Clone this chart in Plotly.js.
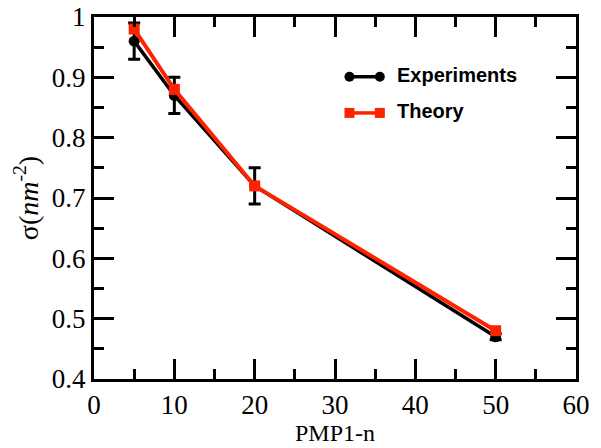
<!DOCTYPE html>
<html><head><meta charset="utf-8">
<script src="https://cdn.plot.ly/plotly-3.0.1.min.js"></script>
<style>html,body{margin:0;padding:0;background:#fff}#chart{width:601px;height:448px}</style>
</head><body><div id="chart"></div>
<script>
const xVals = [5, 10, 20, 50];
const expVals = [0.96, 0.87, 0.72, 0.47];
const expErr = [0.03, 0.03, 0.03, 0.005];
const theoryVals = [0.98, 0.88, 0.72, 0.48];
const seriesNames = ['Experiments', 'Theory'];
const xTickVals = [0, 10, 20, 30, 40, 50, 60];
const xTickText = ['0', '10', '20', '30', '40', '50', '60'];
const yTickVals = [0.4, 0.5, 0.6, 0.7, 0.8, 0.9, 1.0];
const yTickText = ['0.4', '0.5', '0.6', '0.7', '0.8', '0.9', '1'];

const red = '#ff2200';
const serif = '"Liberation Serif", "Times New Roman", serif';
const traces = [
  {x: xVals, y: expVals, name: seriesNames[0], type: 'scatter', mode: 'lines+markers', showlegend: false,
   line: {color: '#000', width: 3.5}, marker: {symbol: 'circle', size: 11, color: '#000'},
   error_y: {type: 'data', array: expErr, visible: true, color: '#000', thickness: 3, width: 6}},
  {x: xVals, y: theoryVals, name: seriesNames[1], type: 'scatter', mode: 'lines+markers', showlegend: false,
   line: {color: red, width: 4}, marker: {symbol: 'square', size: 11, color: red}}
];
const axisCommon = {showgrid: false, zeroline: false, showline: true, linecolor: '#000', linewidth: 3,
  mirror: 'ticks', ticks: 'inside', ticklen: 20, tickwidth: 3, tickcolor: '#000',
  tickfont: {family: serif, size: 27, color: '#000'}};

// custom legend (line with markers at both ends)
const legY = [0.835, 0.735];
const legColors = ['#000', red];
const legTypes = ['circle', 'rect'];
const shapes = [];
const annotations = [];
for (let i = 0; i < 2; i++) {
  shapes.push({type: 'line', xref: 'paper', yref: 'paper', x0: 0.53, x1: 0.593, y0: legY[i], y1: legY[i],
    line: {color: legColors[i], width: 3.5}});
  [0.53, 0.593].forEach(px => {
    shapes.push({type: legTypes[i], xref: 'paper', yref: 'paper', xsizemode: 'pixel', ysizemode: 'pixel',
      xanchor: px, yanchor: legY[i], x0: -5, x1: 5, y0: -5, y1: 5,
      fillcolor: legColors[i], line: {color: legColors[i], width: 0}});
  });
  annotations.push({xref: 'paper', yref: 'paper', x: 0.625, y: legY[i] + 0.005, xanchor: 'left', yanchor: 'middle',
    text: '<b>' + seriesNames[i] + '</b>', showarrow: false,
    font: {family: '"Liberation Sans", Arial, sans-serif', size: 20, color: '#000'}});
}

const layout = {
  width: 601, height: 448,
  margin: {l: 94, r: 25, t: 17, b: 69},
  paper_bgcolor: '#fff', plot_bgcolor: '#fff',
  showlegend: false,
  shapes: shapes, annotations: annotations,
  xaxis: Object.assign({}, axisCommon, {range: [0, 60], tickmode: 'array', tickvals: xTickVals, ticktext: xTickText,
    minor: {dtick: 5, tick0: 0, ticklen: 10, tickwidth: 3, tickcolor: '#000', ticks: 'inside'},
    title: {text: 'PMP1-n', font: {family: serif, size: 24, color: '#000'}, standoff: 4}}),
  yaxis: Object.assign({}, axisCommon, {range: [0.4, 1.0], tickmode: 'array', tickvals: yTickVals, ticktext: yTickText,
    minor: {dtick: 0.05, tick0: 0.4, ticklen: 10, tickwidth: 3, tickcolor: '#000', ticks: 'inside'},
    title: {text: 'σ(<i>nm</i><sup>-2</sup>)', font: {family: serif, size: 28, color: '#000'}, standoff: 6}})
};
Plotly.newPlot('chart', traces, layout, {displayModeBar: false, staticPlot: true});
</script></body></html>
